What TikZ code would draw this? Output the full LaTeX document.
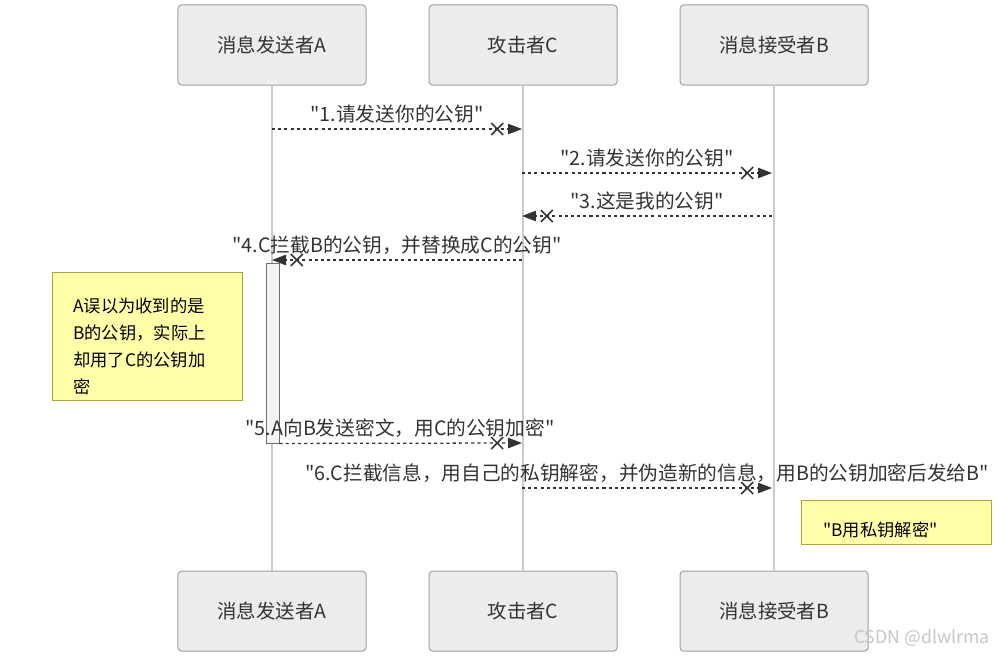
\documentclass[tikz,border=0pt]{standalone}
\usepackage{fontspec}
\newfontfamily\cjk{Noto Sans CJK SC}
\usetikzlibrary{arrows.meta,positioning,shapes.misc,calc}
\definecolor{actorfill}{RGB}{236,236,236}
\definecolor{actorline}{RGB}{160,160,160}
\definecolor{lifegray}{RGB}{204,204,204}
\definecolor{msgblack}{RGB}{51,51,51}
\definecolor{actfill}{RGB}{244,244,244}
\definecolor{actline}{RGB}{110,110,110}
\definecolor{notefill}{RGB}{255,255,170}
\definecolor{noteline}{RGB}{170,170,51}

\begin{document}
\begin{tikzpicture}[
  x=0.025cm, y=-0.025cm,
  actor/.style={rectangle, draw=actorline, fill=actorfill, rounded corners=2.5pt, minimum width=4.7cm, minimum height=2cm, font=\cjk\fontsize{13.8}{16}\selectfont, text=msgblack, line width=0.7pt},
  life/.style={draw=lifegray, line width=0.9pt},
  msg/.style={draw=msgblack, line width=0.9pt, dash pattern=on 2.2pt off 2.2pt, -{Triangle[length=3.5mm, width=2.6mm]}},
  xmark/.style={cross out, draw=msgblack, line width=1.1pt, minimum size=2.6mm, inner sep=0pt},
  lbl/.style={font=\cjk\fontsize{14}{16}\selectfont, text=msgblack, inner sep=0pt},
  note/.style={rectangle, draw=noteline, fill=notefill, line width=0.7pt, minimum width=4.725cm},
  notetext/.style={font=\cjk\fontsize{12.3}{19.2}\selectfont, text=black, inner sep=0pt, align=left, anchor=west}
]
\useasboundingbox (0,0) rectangle (1006,657);

\node[actor] (aT) at (272,45) {消息发送者A};
\node[actor, right=1.55cm of aT] (cT) {攻击者C};
\node[actor, right=1.55cm of cT] (bT) {消息接受者B};
\node[actor, below=12.125cm of aT] (aB) {消息发送者A};
\node[actor, below=12.125cm of cT] (cB) {攻击者C};
\node[actor, below=12.125cm of bT] (bB) {消息接受者B};

\foreach \p in {a,c,b}
  \draw[life] (\p T) -- (\p B);

\node[rectangle, draw=actline, fill=actfill, line width=0.6pt, minimum width=0.325cm, minimum height=4.5cm, inner sep=0pt] (act) at (272.5,353) {};

\node[note, minimum height=3.175cm] (note1) at (147.5,336.5) {};
\node[notetext] (t1) at (73,346) {A误以为收到的是\\B的公钥，实际上\\却用了C的公钥加\\密};
\node[note, minimum height=1.1cm] (note2) at (896.5,522) {};
\node[notetext] (t2) at (823,530) {"B用私钥解密"};

\foreach \n/\y in {1/129,2/173,3/216,4/260,5/443,6/488} {
  \coordinate (a\n) at (272,\y);
  \coordinate (c\n) at (522,\y);
  \coordinate (b\n) at (772,\y);
}
\foreach \s/\t in {a1/c1,c2/b2,b3/c3,c4/a4,act.south east/c5,c6/b6} {
  \draw[msg] (\s) -- (\t);
  \node[xmark] at ($(\t)!0.62cm!(\s)$) {};
}

\node[lbl] (l1) at (397,114) {"1.请发送你的公钥"};
\node[lbl] (l2) at (647,158) {"2.请发送你的公钥"};
\node[lbl] (l3) at (647,201) {"3.这是我的公钥"};
\node[lbl] (l4) at (397,245) {"4.C拦截B的公钥，并替换成C的公钥"};
\node[lbl] (l5) at (400,428) {"5.A向B发送密文，用C的公钥加密"};
\node[lbl] (l6) at (647,473) {"6.C拦截信息，用自己的私钥解密，并伪造新的信息，用B的公钥加密后发给B"};

\node[anchor=east, inner sep=0pt, font=\cjk\fontsize{12.6}{14}\selectfont, text=black!22] (mark) at (990,638) {CSDN @dlwlrma};
\end{tikzpicture}
\end{document}
